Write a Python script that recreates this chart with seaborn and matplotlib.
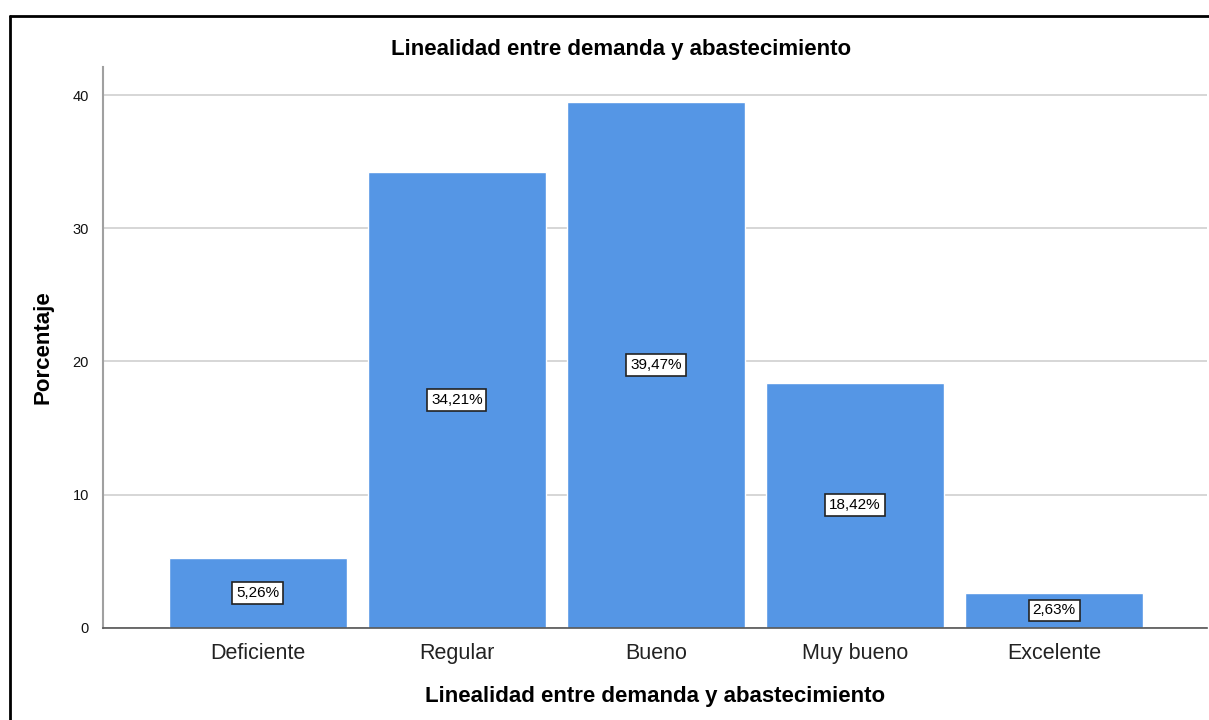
import matplotlib
matplotlib.use("Agg")
import matplotlib.pyplot as plt
import seaborn as sns
import pandas as pd
from matplotlib.lines import Line2D

categories = ["Deficiente", "Regular", "Bueno", "Muy bueno", "Excelente"]
percentages = [5.26, 34.21, 39.47, 18.42, 2.63]
value_labels = ["5,26%", "34,21%", "39,47%", "18,42%", "2,63%"]
y_ticks = [0, 10, 20, 30, 40]

sns.set_theme(style="white")
plt.rcParams["font.family"] = ["Liberation Sans", "DejaVu Sans"]
plt.rcParams["text.color"] = "black"

df = pd.DataFrame({"cat": categories, "pct": percentages})

fig = plt.figure(figsize=(12.09, 7.2), dpi=100)
ax = fig.add_axes([0.0852, 0.1278, 0.9131, 0.7791])

sns.barplot(data=df, x="cat", y="pct", color="#5596E5", saturation=1,
            width=0.895, ax=ax, zorder=2)

ax.set_ylim(0, 42.1)
ax.set_xlim(-0.777, 4.767)
ax.set_yticks(y_ticks)
ax.set_yticklabels([str(t) for t in y_ticks], fontsize=10.5, color="#111111")
ax.tick_params(axis="x", labelsize=15.5, colors="#222222", length=0, pad=11)
ax.tick_params(axis="y", length=0, pad=10)

ax.yaxis.grid(True, color="#cfcfcf", linewidth=1.2, zorder=0)
ax.set_axisbelow(True)

for side in ("top", "right"):
    ax.spines[side].set_visible(False)
ax.spines["left"].set_color("#a0a0a0")
ax.spines["left"].set_linewidth(1.5)
ax.spines["bottom"].set_color("#555555")
ax.spines["bottom"].set_linewidth(1.2)

for i, (v, lab) in enumerate(zip(percentages, value_labels)):
    ax.text(i, v / 2, lab, ha="center", va="center", fontsize=11,
            color="black", zorder=5,
            bbox=dict(boxstyle="square,pad=0.25", facecolor="white",
                      edgecolor="#222222", linewidth=1.2))

ax.set_xlabel("Linealidad entre demanda y abastecimiento", fontsize=16,
              fontweight="bold", labelpad=16, color="black")
ax.set_ylabel("Porcentaje", fontsize=16, fontweight="bold",
              labelpad=14, color="black")
fig.text(0.5135, 0.931, "Linealidad entre demanda y abastecimiento",
         ha="center", va="center", fontsize=16, fontweight="bold",
         color="black")

# frame lines along the top and left edge of the figure
fig.add_artist(Line2D([10 / 1209, 1.0], [1 - 16 / 720, 1 - 16 / 720],
                      color="black", linewidth=2, transform=fig.transFigure))
fig.add_artist(Line2D([10 / 1209, 10 / 1209], [0.0, 1 - 16 / 720],
                      color="black", linewidth=2, transform=fig.transFigure))

fig.savefig("out.png", dpi=100)
